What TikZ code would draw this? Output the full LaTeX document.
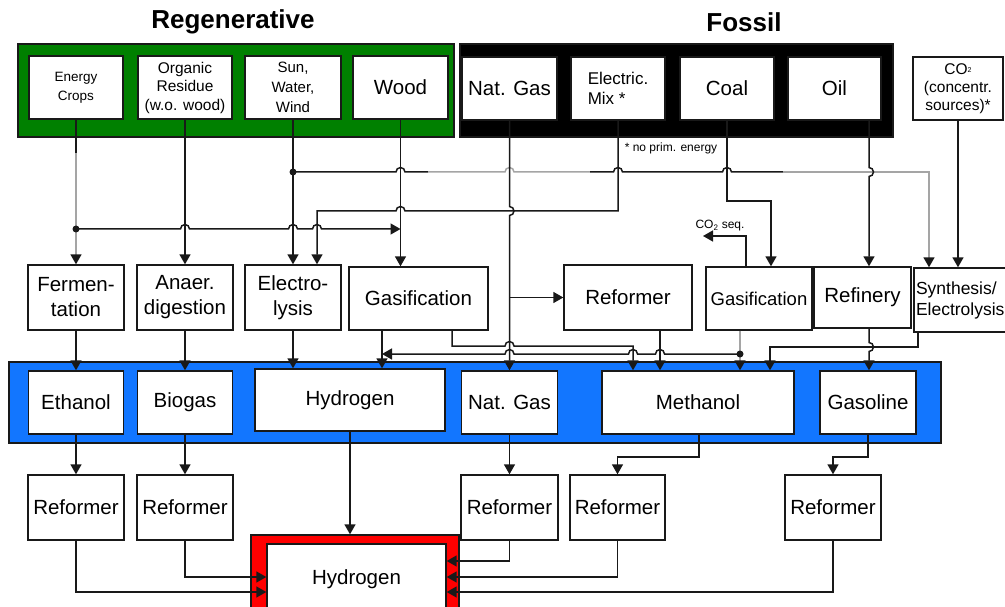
\documentclass[tikz,border=0pt]{standalone}
\usepackage{fontspec}
\setmainfont{Liberation Sans}
\usetikzlibrary{arrows.meta}
\definecolor{rgreen}{RGB}{0,128,0}
\definecolor{rblue}{RGB}{18,118,255}
\definecolor{rred}{RGB}{255,0,0}
\definecolor{lgray}{RGB}{165,165,165}
\definecolor{ink}{RGB}{25,25,25}
\newcommand\jrad{4.5pt}
\begin{document}
\begin{tikzpicture}[x=1pt,y=-1pt,
  box/.style={draw=ink, line width=1.4pt, fill=white, inner sep=1pt, align=center, font=\fontsize{20.5}{25}\selectfont},
  ln/.style={draw=ink, line width=1.5pt},
  arr/.style={ln, -{Triangle[length=10pt,width=11pt]}},
  garr/.style={draw=lgray, line width=1.5pt, -{Triangle[length=10pt,width=11pt,color=ink]}},
  gln/.style={draw=lgray, line width=1.5pt},
  dot/.style={circle, fill=ink, inner sep=0pt, minimum size=7pt},
  band/.style={draw=ink, line width=1.4pt},
  title/.style={font=\fontsize{26}{30}\selectfont\bfseries},
  small/.style={font=\fontsize{12}{14}\selectfont}
]
\useasboundingbox (0,0) rectangle (1005,607);

% backgrounds
\draw[band, fill=rgreen] (18,44) rectangle (454,137);
\draw[band, fill=black] (460,44) rectangle (893,137);
\draw[band, fill=rblue] (9,362) rectangle (941,443);
\node[draw=ink, fill=rred, line width=1.4pt, minimum width=208pt, minimum height=90pt, inner sep=0pt] (h2frame) at (355,580) {};

% titles
\node[title] (tReg) at (233,22) {Regenerative};
\node[title] (tFos) at (744,22) {Fossil};

% sources
\node[box, minimum width=94pt, minimum height=63pt, font=\fontsize{13.5}{19}\selectfont] (ec) at (76,87.5) {Energy\\Crops};
\node[box, minimum width=94pt, minimum height=63pt, font=\fontsize{15.5}{18.5}\selectfont] (orr) at (185,87.5) {Organic\\Residue\\(w.o. wood)};
\node[box, minimum width=96pt, minimum height=63pt, font=\fontsize{15}{20}\selectfont] (sww) at (293,87.5) {Sun,\\Water,\\Wind};
\node[box, minimum width=95pt, minimum height=63pt] (wood) at (400.5,87.5) {Wood};
\node[box, minimum width=95pt, minimum height=63pt] (ng) at (509.5,88.5) {Nat. Gas};
\node[box, minimum width=94pt, minimum height=63pt, align=left, font=\fontsize{17}{20}\selectfont] (em) at (618,88.5) {Electric.\\Mix *};
\node[box, minimum width=94pt, minimum height=63pt] (coal) at (727,88.5) {Coal};
\node[box, minimum width=93pt, minimum height=63pt] (oil) at (834.5,88.5) {Oil};
\node[box, minimum width=90pt, minimum height=63pt, font=\fontsize{15.5}{18}\selectfont] (co2) at (958,88.5) {CO\raisebox{1.5pt}{\fontsize{7}{7}\selectfont 2}\\(concentr.\\sources)*};

% process row
\node[box, minimum width=96pt, minimum height=65pt] (ferm) at (76,297.5) {Fermen-\\tation};
\node[box, minimum width=96pt, minimum height=65pt] (anaer) at (185,297.5) {Anaer.\\digestion};
\node[box, minimum width=96pt, minimum height=65pt] (elec) at (293,297.5) {Electro-\\lysis};
\node[box, minimum width=139pt, minimum height=63pt] (gas1) at (418.5,298.5) {Gasification};
\node[box, minimum width=128pt, minimum height=65pt] (ref0) at (628,297.5) {Reformer};
\node[box, minimum width=106pt, minimum height=63pt, font=\fontsize{18.5}{22}\selectfont] (gas2) at (759,298.5) {Gasification};
\node[box, minimum width=97pt, minimum height=61pt] (refin) at (862.5,297.5) {Refinery};
\node[box, text width=96pt, inner sep=2pt, minimum height=64pt, align=left, font=\fontsize{17.5}{21}\selectfont] (synth) at (964,300) {Synthesis/\\Electrolysis};

% fuels row
\node[box, minimum width=95pt, minimum height=63pt] (eth) at (76,402.5) {Ethanol};
\node[box, minimum width=95pt, minimum height=63pt] (bio) at (185,402.5) {Biogas};
\node[box, minimum width=190pt, minimum height=62pt] (hyd) at (350,400) {Hydrogen};
\node[box, minimum width=96pt, minimum height=63pt] (ng2) at (509.5,402.5) {Nat. Gas};
\node[box, minimum width=192pt, minimum height=63pt] (meth) at (698,402.5) {Methanol};
\node[box, minimum width=96pt, minimum height=63pt] (gasol) at (868,402.5) {Gasoline};

% reformer row
\node[box, minimum width=96pt, minimum height=65pt] (r1) at (76,507.5) {Reformer};
\node[box, minimum width=96pt, minimum height=65pt] (r2) at (185,507.5) {Reformer};
\node[box, minimum width=97pt, minimum height=65pt] (r3) at (509.5,507.5) {Reformer};
\node[box, minimum width=95pt, minimum height=65pt] (r4) at (617.5,507.5) {Reformer};
\node[box, minimum width=96pt, minimum height=65pt] (r5) at (833,507.5) {Reformer};

% final hydrogen
\node[box, minimum width=179pt, minimum height=70pt] (h2) at (356.5,579) {Hydrogen};

% small labels
\node[small] (noprim) at (671,148) {* no prim. energy};
\node[small] (co2seq) at (720,226) {CO\textsubscript{2} seq.};
\coordinate (seqend) at (703,236);

% ---------- connectors ----------
% Energy crops -> fermentation
\draw[ln] (ec.south) -- (76,153);
\draw[garr] (76,153) -- (ferm.north);
\node[dot] (d1) at (76,229) {};
\draw[arr] (d1.center) -- (180.5,229) arc[start angle=180,end angle=0,radius=\jrad]
  -- (288.5,229) arc[start angle=180,end angle=0,radius=\jrad]
  -- (312.5,229) arc[start angle=180,end angle=0,radius=\jrad]
  -- (wood.south |- d1.center);
% organic residue
\draw[arr] (orr.south) -- (anaer.north);
% sun water wind
\draw[arr] (sww.south) -- (elec.north);
\node[dot] (d2) at (293,172) {};
\draw[ln] (d2.center) -- (396,172) arc[start angle=180,end angle=0,radius=\jrad] -- (428,172);
\draw[gln] (428,172) -- (505,172) arc[start angle=180,end angle=0,radius=\jrad] -- (590,172);
\draw[ln] (590,172) -- (613.5,172) arc[start angle=180,end angle=0,radius=\jrad]
  -- (722.5,172) arc[start angle=180,end angle=0,radius=\jrad] -- (783,172);
\draw[garr] (783,172) -- (929,172) -- ([xshift=-35pt]synth.north);
% electric mix -> electrolysis
\draw[arr] (em.south) -- (618,211) -- (405,211) arc[start angle=0,end angle=180,radius=\jrad]
  -- (317,211) -- ([xshift=24pt]elec.north);
% wood -> gasification
\draw[arr] (wood.south) -- (wood.south |- gas1.north);
% natural gas
\draw[arr] (ng.south) -- (509.5,206.5) arc[start angle=90,end angle=-90,radius=\jrad] -- (ng2.north);
\draw[arr] (ng.south |- ref0.west) -- (ref0.west);
% coal
\draw[arr] (coal.south) -- (727,201) -| ([xshift=12pt]gas2.north);
% oil
\draw[arr] ([xshift=34.5pt]oil.south) -- (869,167.5) arc[start angle=90,end angle=-90,radius=\jrad] -- ([xshift=6.5pt]refin.north);
% CO2 sources
\draw[arr] (co2.south) -- (co2.south |- synth.north);
% CO2 sequestration
\draw[arr] ([xshift=-13pt]gas2.north) |- (seqend);

% process -> fuels
\draw[arr] (ferm.south) -- (eth.north);
\draw[arr] (anaer.south) -- (bio.north);
\draw[arr] (elec.south) -- (elec.south |- hyd.north);
\draw[arr] ([xshift=-36.5pt]gas1.south) -- ([xshift=-36.5pt]gas1.south |- hyd.north);
\draw[arr] ([xshift=33.5pt]gas1.south) -- (452,346) -- (505,346) arc[start angle=180,end angle=0,radius=\jrad]
  -- (633,346) -- ([xshift=-65pt]meth.north);
\draw[arr] ([xshift=32pt]ref0.south) -- ([xshift=-38pt]meth.north);
\draw[garr] ([xshift=-19pt]gas2.south) -- ([xshift=42pt]meth.north);
\node[dot] (d3) at (740,354) {};
\draw[arr] (d3.center) -- (664.5,354) arc[start angle=0,end angle=180,radius=\jrad]
  -- (637.5,354) arc[start angle=0,end angle=180,radius=\jrad]
  -- (514,354) arc[start angle=0,end angle=180,radius=\jrad]
  -- ([xshift=-36.5pt]gas1.south |- d3.center);
\draw[arr] ([xshift=-46pt]synth.south) -- (918,347) -- (770,347) -- ([xshift=72pt]meth.north);
\draw[arr] ([xshift=6.5pt]refin.south) -- (869,342.5) arc[start angle=90,end angle=-90,radius=\jrad] -- ([xshift=1pt]gasol.north);

% fuels -> reformers
\draw[arr] (eth.south) -- (r1.north);
\draw[arr] (bio.south) -- (r2.north);
\draw[arr] (hyd.south) -- (hyd.south |- h2frame.north);
\draw[arr] (ng2.south) -- (r3.north);
\draw[arr] ([xshift=1pt]meth.south) -- (699,457) -| (r4.north);
\draw[arr] (gasol.south) -- (868,457) -| (r5.north);

% reformers -> hydrogen
\draw[arr] (r1.south) |- ([yshift=-13pt]h2.west);
\draw[arr] (r2.south) |- ([yshift=2pt]h2.west);
\draw[arr] (r3.south) |- ([yshift=18pt]h2.east);
\draw[arr] (r4.south) |- ([yshift=2pt]h2.east);
\draw[arr] (r5.south) |- ([yshift=-13pt]h2.east);
\end{tikzpicture}
\end{document}
